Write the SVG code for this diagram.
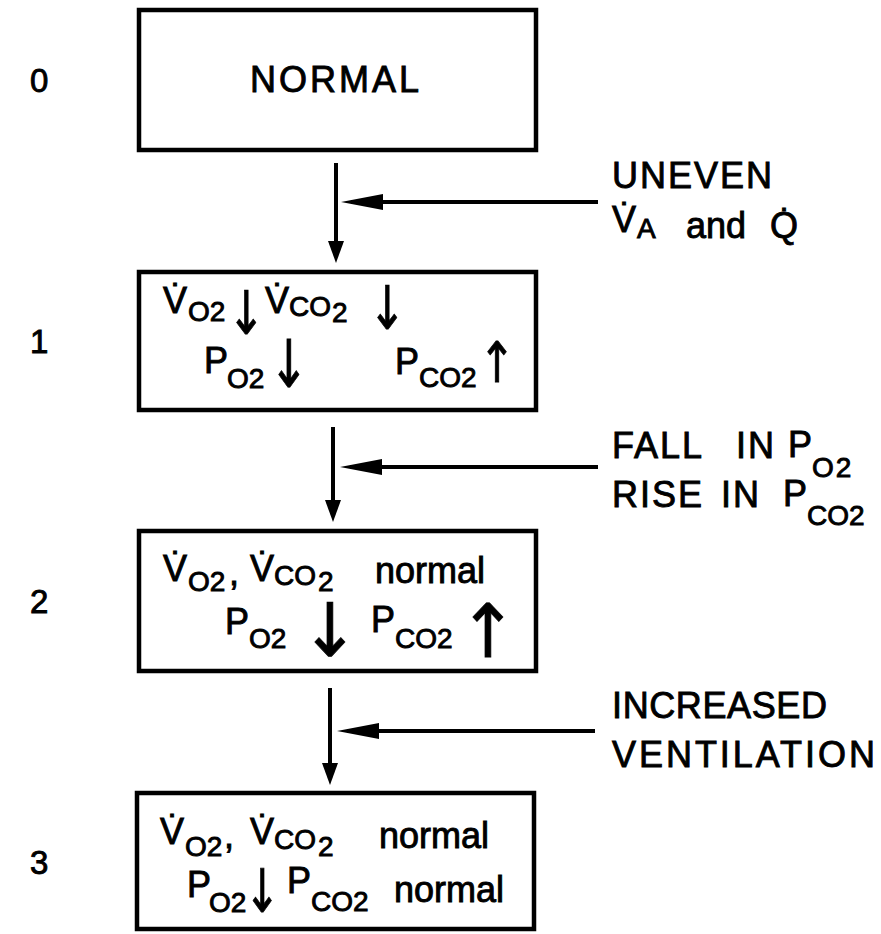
<svg xmlns="http://www.w3.org/2000/svg" width="881" height="934" viewBox="0 0 881 934">
<style>
.t{font-family:"Liberation Sans",Arial,sans-serif;font-size:36px;fill:#000;stroke:#000;stroke-width:0.9}
.s{font-size:28px}
.cap{letter-spacing:2px}
.arr{font-family:"DejaVu Sans",sans-serif;fill:#000;stroke:#000;stroke-width:0.8;text-anchor:middle}
.lab{font-size:33px}
.box{fill:#fff;stroke:#000;stroke-width:4.5}
.con{fill:none;stroke:#000;stroke-width:4}
</style>
<defs>
<marker id="hh" markerUnits="userSpaceOnUse" viewBox="0 -8 42 16" refX="32" refY="0" markerWidth="42" markerHeight="16" orient="auto">
<path d="M0,-8 L42,0 L0,8 Z" fill="#000"/>
</marker>
<marker id="vh" markerUnits="userSpaceOnUse" viewBox="0 -9 22 18" refX="14" refY="0" markerWidth="22" markerHeight="18" orient="auto">
<path d="M0,-8 L22,0 L0,8 Z" fill="#000"/>
</marker>
</defs>
<rect width="881" height="934" fill="#fff"/>

<g id="stage-labels" class="t lab">
<text x="30" y="92">0</text>
<text x="30" y="353">1</text>
<text x="30" y="613">2</text>
<text x="30" y="874">3</text>
</g>

<g id="node0">
<rect class="box" x="139" y="10" width="397" height="140"/>
<text class="t" x="336" y="92" text-anchor="middle" letter-spacing="3">NORMAL</text>
</g>

<g id="node1">
<rect class="box" x="139" y="272" width="397" height="138"/>
<text class="t"><tspan x="163" y="313">V̇</tspan><tspan class="s" x="188" y="321">O2</tspan> <tspan x="265" y="313">V̇</tspan><tspan class="s" x="289" y="316">CO</tspan><tspan class="s" x="332" y="322">2</tspan></text>
<text class="arr" font-size="60" transform="translate(246,334) scale(0.75,1)">↓</text>
<text class="arr" font-size="60" transform="translate(387,329) scale(0.75,1)">↓</text>
<text class="t"><tspan x="204" y="373">P</tspan><tspan class="s" x="227" y="388">O2</tspan> <tspan x="395" y="374">P</tspan><tspan class="s" x="419" y="387">CO2</tspan></text>
<text class="arr" font-size="66" transform="translate(289,387) scale(0.72,1)">↓</text>
<text class="arr" font-size="56" transform="translate(497,382) scale(0.78,1)">↑</text>
</g>

<g id="node2">
<rect class="box" x="139" y="531" width="397" height="140"/>
<text class="t"><tspan x="163" y="581">V̇</tspan><tspan class="s" x="188" y="591">O2</tspan><tspan x="229" y="585">,</tspan> <tspan x="250" y="581">V̇</tspan><tspan class="s" x="274" y="585">CO</tspan><tspan class="s" x="318" y="591">2</tspan> <tspan x="375" y="583">normal</tspan></text>
<text class="t"><tspan x="225" y="634">P</tspan><tspan class="s" x="249" y="648">O2</tspan> <tspan x="371" y="632">P</tspan><tspan class="s" x="395" y="648">CO2</tspan></text>
<text class="arr" font-size="74" stroke-width="1.4" transform="translate(330,656) scale(0.95,1)">↓</text>
<text class="arr" font-size="74" stroke-width="1.4" transform="translate(488,657) scale(0.95,1)">↑</text>
</g>

<g id="node3">
<rect class="box" x="137" y="793" width="397" height="136"/>
<text class="t"><tspan x="160" y="844">V̇</tspan><tspan class="s" x="185" y="856">O2</tspan><tspan x="224" y="848">,</tspan> <tspan x="250" y="844">V̇</tspan><tspan class="s" x="274" y="849">CO</tspan><tspan class="s" x="318" y="856">2</tspan> <tspan x="379" y="848">normal</tspan></text>
<text class="t"><tspan x="187" y="897">P</tspan><tspan class="s" x="209" y="912">O2</tspan> <tspan x="287" y="893">P</tspan><tspan class="s" x="311" y="911">CO2</tspan> <tspan x="394" y="902">normal</tspan></text>
<text class="arr" font-size="60" transform="translate(262,912) scale(0.72,1)">↓</text>
</g>

<g id="cause1">
<text class="t cap" x="612" y="188">UNEVEN</text>
<text class="t"><tspan x="612" y="232">V̇</tspan><tspan class="s" x="637" y="238">A</tspan> <tspan x="686" y="238">and</tspan> <tspan x="770" y="238">Q̇</tspan></text>
</g>

<g id="cause2">
<text class="t cap"><tspan x="612" y="458">FALL</tspan> <tspan x="736" y="458">IN</tspan> <tspan x="788" y="457">P</tspan><tspan class="s" x="812" y="477">O2</tspan></text>
<text class="t cap"><tspan x="612" y="507">RISE</tspan> <tspan x="721" y="507">IN</tspan> <tspan x="783" y="506">P</tspan><tspan class="s" x="807" y="525" letter-spacing="0">CO2</tspan></text>
</g>

<g id="cause3">
<text class="t" x="612" y="718" textLength="215" lengthAdjust="spacing">INCREASED</text>
<text class="t" x="612" y="767" textLength="263" lengthAdjust="spacing">VENTILATION</text>
</g>

<g id="connectors">
<line class="con" x1="336" y1="163" x2="336" y2="255" marker-end="url(#vh)"/>
<line class="con" x1="598" y1="202" x2="351" y2="202" marker-end="url(#hh)"/>
<line class="con" x1="333" y1="427" x2="333" y2="514" marker-end="url(#vh)"/>
<line class="con" x1="598" y1="467" x2="350" y2="467" marker-end="url(#hh)"/>
<line class="con" x1="330" y1="688" x2="330" y2="777" marker-end="url(#vh)"/>
<line class="con" x1="595" y1="731" x2="347" y2="731" marker-end="url(#hh)"/>
</g>
</svg>
